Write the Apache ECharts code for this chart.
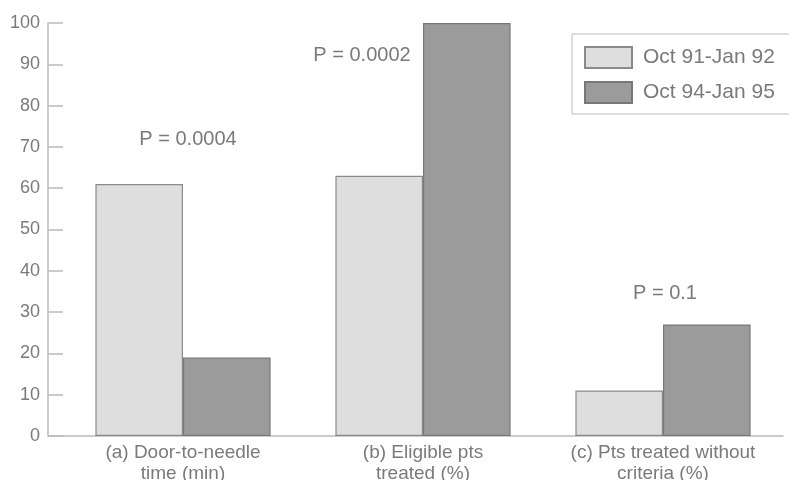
<!DOCTYPE html>
<html>
<head>
<meta charset="utf-8">
<script src="https://cdn.jsdelivr.net/npm/echarts@6/dist/echarts.min.js"></script>
<style>
  html, body { margin: 0; padding: 0; background: #fff; }
  #main { width: 789px; height: 480px; }
</style>
</head>
<body>
<div id="main"></div>
<script>
  // data
  const categories = ['(a) Door-to-needle\ntime (min)', '(b) Eligible pts\ntreated (%)', '(c) Pts treated without\ncriteria (%)']
  const period1 = [61, 63, 11]
  const period2 = [19, 100, 27]
  const seriesNames = ['Oct 91-Jan 92', 'Oct 94-Jan 95']
  const pLabels = ['P = 0.0004', 'P = 0.0002', 'P = 0.1']
  const pLevels = [71.7, 92.2, 34.6]
  const pShift = [5, -61, 2]

  const font = 'Liberation Sans, Arial, sans-serif'
  const grey = '#7a7a7a'

  const chart = echarts.init(document.getElementById('main'))
  chart.setOption({
    animation: false,
    textStyle: { fontFamily: font },
    grid: { left: 63, right: 6, top: 23, bottom: 44, outerBoundsMode: 'none' },
    legend: {
      orient: 'vertical',
      left: 572,
      top: 34,
      padding: [12, 30, 10, 12],
      itemWidth: 47,
      itemHeight: 21,
      itemGap: 12,
      icon: 'rect',
      borderColor: '#bbb',
      borderWidth: 1,
      textStyle: { color: grey, fontSize: 21, fontFamily: font, padding: [0, 0, 0, 6] },
      data: seriesNames
    },
    xAxis: {
      type: 'category',
      data: categories,
      axisLine: { lineStyle: { color: '#bbb', width: 1.5 } },
      axisTick: { show: false },
      axisLabel: { color: grey, fontSize: 19, lineHeight: 21, margin: 6, interval: 0 }
    },
    yAxis: {
      type: 'value',
      min: 0,
      max: 100,
      interval: 10,
      offset: 15,
      axisLine: { show: true, lineStyle: { color: '#bbb', width: 1.5 } },
      axisTick: { show: true, inside: true, length: 15, lineStyle: { color: '#bbb', width: 1.5 } },
      axisLabel: { color: grey, fontSize: 18, margin: 8 },
      splitLine: { show: false }
    },
    series: [
      {
        name: seriesNames[0],
        type: 'bar',
        data: period1,
        barGap: '0%',
        barCategoryGap: '27%',
        itemStyle: { color: '#dedede', borderColor: '#8a8a8a', borderWidth: 1.2 }
      },
      {
        name: seriesNames[1],
        type: 'bar',
        data: period2,
        itemStyle: { color: '#9b9b9b', borderColor: '#777', borderWidth: 1.2 }
      }
    ]
  })

  // P-value annotations and the short stretch of x axis left of the grid
  const zero = chart.convertToPixel({ yAxisIndex: 0 }, 0)
  const graphics = [{
    type: 'line',
    shape: { x1: 48, y1: zero, x2: 63, y2: zero },
    style: { stroke: '#bbb', lineWidth: 1.5 }
  }]
  pLabels.forEach((txt, i) => {
    const x = chart.convertToPixel({ xAxisIndex: 0 }, categories[i]) + pShift[i]
    const y = chart.convertToPixel({ yAxisIndex: 0 }, pLevels[i])
    graphics.push({
      type: 'text',
      x: x,
      y: y,
      style: { text: txt, fill: grey, fontSize: 20, fontFamily: font, align: 'center', verticalAlign: 'middle' }
    })
  })
  chart.setOption({ graphic: graphics })
</script>
</body>
</html>
